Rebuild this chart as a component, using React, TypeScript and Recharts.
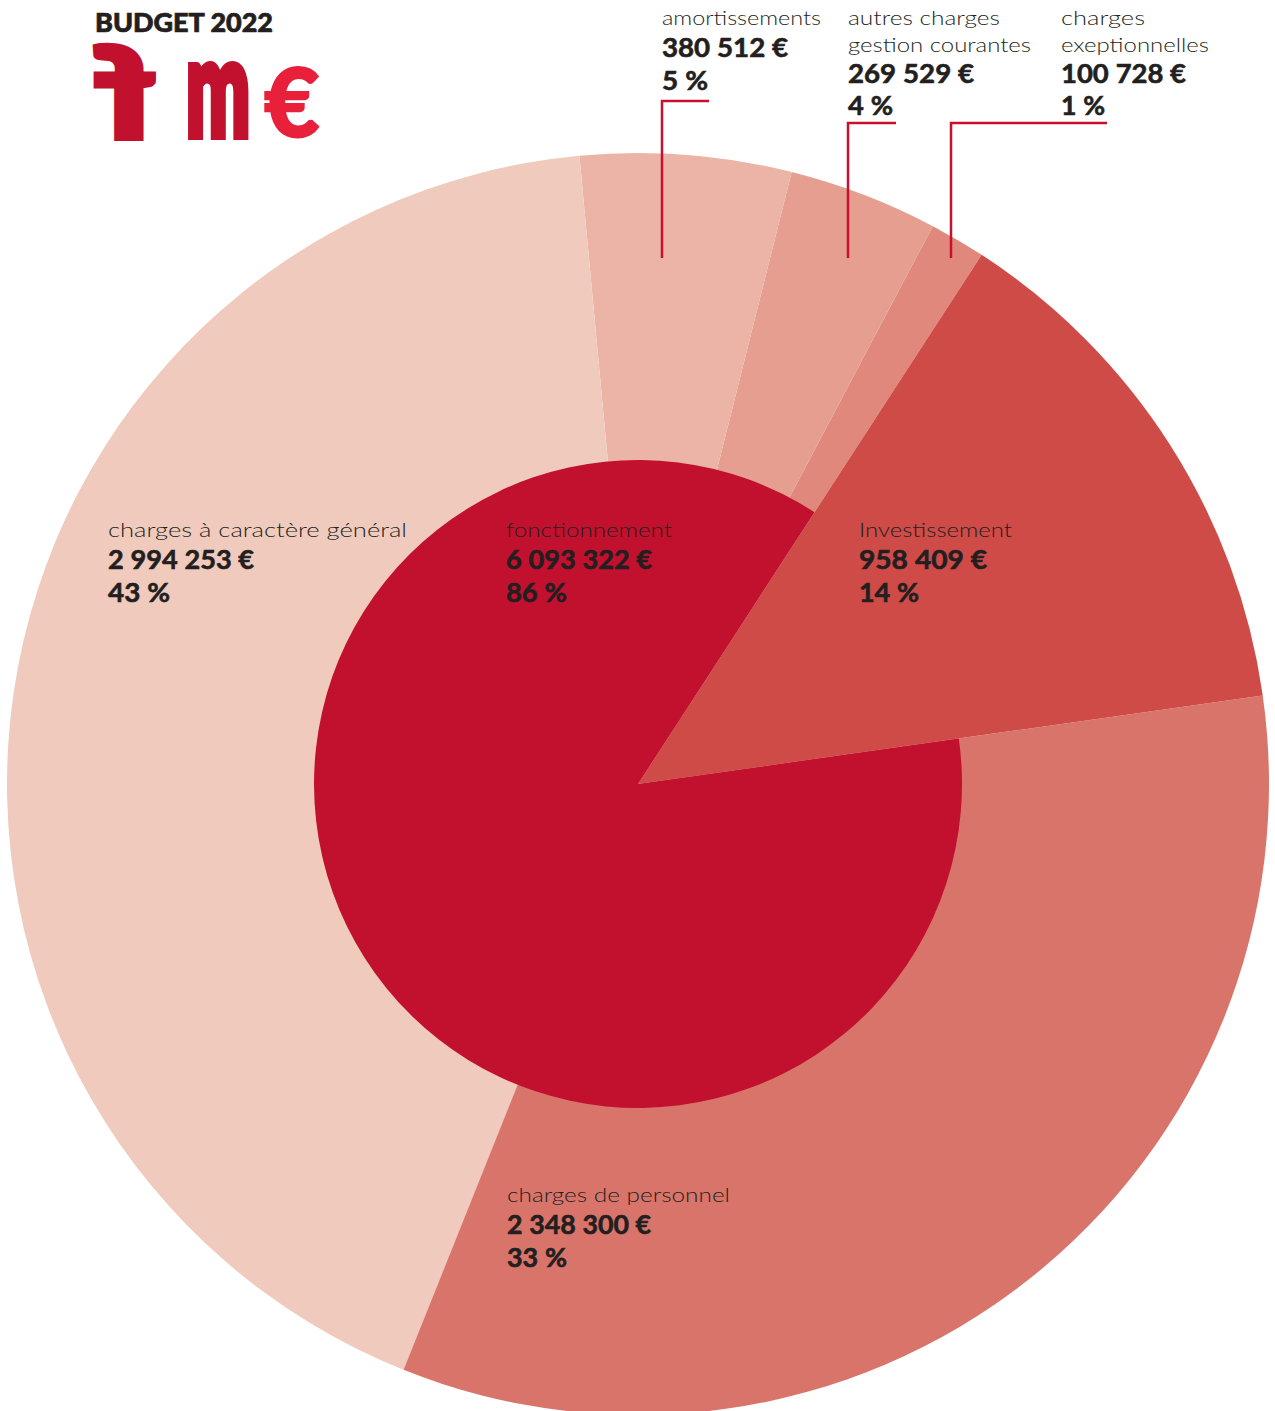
import { PieChart, Pie, Cell } from "recharts";

// --- data ---
const outerNames = [
  "charges exeptionnelles",
  "autres charges gestion courantes",
  "amortissements",
  "charges à caractère général",
  "charges de personnel",
  "Investissement",
];
const outerLabelLines = [
  ["charges", "exeptionnelles"],
  ["autres charges", "gestion courantes"],
  ["amortissements"],
  ["charges à caractère général"],
  ["charges de personnel"],
  ["Investissement"],
];
const outerValues = [100728, 269529, 380512, 2994253, 2348300, 958409];
const outerPct = [1, 4, 5, 43, 33, 14];

const innerNames = ["fonctionnement", "Investissement"];
const innerLabelLines = [["fonctionnement"], []];
const innerValues = [6093322, 958409];
const innerPct = [86, 14];

const title = "BUDGET 2022";

// --- styles / layout ---
const W = 1275;
const H = 1411;
const CX = 638;
const CY = 784;
const R_OUT = 631;
const R_IN = 324;
const START = 57;

const outerColors = ["#DF887B", "#E69E90", "#EBB4A7", "#F0CBBD", "#D9746A", "#CF4B48"];
const innerColors = ["#C1112E", "none"];
const RED = "#C8102E";
const INK = "#231F20";

type Box = {
  x: number;
  lines: number[]; // baselines of the name lines
  value: number;
  pct: number;
  w: number[]; // text widths: name lines..., value, pct
  leader?: [number, number][];
};

const outerLayout: Box[] = [
  { x: 1061, lines: [25, 52], value: 83, pct: 115, w: [84, 148, 125, 44], leader: [[951, 258], [951, 123], [1107, 123]] },
  { x: 848, lines: [25, 52], value: 83, pct: 115, w: [152, 183, 126, 45], leader: [[848, 258], [848, 123], [896, 123]] },
  { x: 662, lines: [25], value: 57, pct: 90, w: [159, 126, 46], leader: [[662, 258], [662, 101], [709, 101]] },
  { x: 108, lines: [537], value: 569, pct: 602, w: [299, 146, 62] },
  { x: 507, lines: [1202], value: 1234, pct: 1267, w: [223, 144, 60] },
  { x: 859, lines: [537], value: 569, pct: 602, w: [153, 128, 60] },
];
const innerLayout: (Box | null)[] = [
  { x: 506, lines: [537], value: 569, pct: 602, w: [166, 146, 61] },
  null,
];

const fmtEuro = (v: number) =>
  v.toLocaleString("fr-FR").replace(/\s/g, "\u202f") + "\u00a0€";
const fmtPct = (p: number) => `${p}\u202f%`;

const nameStyle = { fontFamily: "Lato, sans-serif", fontWeight: 300, fontSize: 20, fill: INK };
const boldStyle = {
  fontFamily: "Lato, sans-serif",
  fontWeight: 700,
  fontSize: 26,
  fill: INK,
  stroke: INK,
  strokeWidth: 0.6,
};

function makeLabel(lines: string[][], values: number[], pcts: number[], layout: (Box | null)[]) {
  return (props: any) => {
    const i = props.index;
    const b = layout[i];
    if (!b) return null;
    const n = lines[i].length;
    return (
      <g>
        {b.leader && (
          <polyline
            points={b.leader.map((p) => p.join(",")).join(" ")}
            fill="none"
            stroke={RED}
            strokeWidth={2.5}
          />
        )}
        {lines[i].map((t, k) => (
          <text key={k} x={b.x} y={b.lines[k]} style={nameStyle} textLength={b.w[k]} lengthAdjust="spacingAndGlyphs">
            {t}
          </text>
        ))}
        <text x={b.x} y={b.value} style={boldStyle} textLength={b.w[n]} lengthAdjust="spacingAndGlyphs">
          {fmtEuro(values[i])}
        </text>
        <text x={b.x} y={b.pct} style={boldStyle} textLength={b.w[n + 1]} lengthAdjust="spacingAndGlyphs">
          {fmtPct(pcts[i])}
        </text>
      </g>
    );
  };
}

const outerData = outerNames.map((name, i) => ({ name, value: outerValues[i] }));
const innerData = innerNames.map((name, i) => ({ name, value: innerValues[i] }));

function Logo() {
  return (
    <svg width={400} height={200} style={{ position: "absolute", left: 0, top: 0, pointerEvents: "none" }}>
      <text
        x={95}
        y={32}
        textLength={178}
        lengthAdjust="spacingAndGlyphs"
        style={{ fontFamily: "Lato, sans-serif", fontWeight: 900, fontSize: 26, fill: INK, stroke: INK, strokeWidth: 0.7 }}
      >
        {title}
      </text>
      <g style={{ fontFamily: "Lato, sans-serif", fontWeight: 900 }}>
        <text
          transform="translate(156,139) scale(-1.3,0.98)"
          style={{ fontSize: 128, fill: "#C1112E", stroke: "#C1112E", strokeWidth: 5, strokeLinejoin: "miter" }}
        >
          f
        </text>
        <text
          transform="translate(186,136) scale(0.76,1.36)"
          style={{ fontSize: 100, fill: "#C1112E", stroke: "#C1112E", strokeWidth: 6 }}
        >
          m
        </text>
        <text
          x={264}
          y={137}
          style={{ fontSize: 96, fill: "#E8203A", stroke: "#E8203A", strokeWidth: 2 }}
        >
          €
        </text>
      </g>
    </svg>
  );
}

export default function App() {
  return (
    <div style={{ position: "absolute", left: 0, top: 0, width: W, height: H, background: "#fff", overflow: "hidden" }}>
      <PieChart width={W} height={H} margin={{ top: 0, right: 0, bottom: 0, left: 0 }}>
        <Pie
          data={outerData}
          dataKey="value"
          nameKey="name"
          cx={CX}
          cy={CY}
          innerRadius={0}
          outerRadius={R_OUT}
          startAngle={START}
          endAngle={START + 360}
          stroke="none"
          labelLine={false}
          label={makeLabel(outerLabelLines, outerValues, outerPct, outerLayout)}
          isAnimationActive={false}
        >
          {outerData.map((d, i) => (
            <Cell key={d.name} fill={outerColors[i]} />
          ))}
        </Pie>
        <Pie
          data={innerData}
          dataKey="value"
          nameKey="name"
          cx={CX}
          cy={CY}
          innerRadius={0}
          outerRadius={R_IN}
          startAngle={START}
          endAngle={START + 360}
          stroke="none"
          labelLine={false}
          label={makeLabel(innerLabelLines, innerValues, innerPct, innerLayout)}
          isAnimationActive={false}
        >
          {innerData.map((d, i) => (
            <Cell key={d.name} fill={innerColors[i]} />
          ))}
        </Pie>
      </PieChart>
      <Logo />
    </div>
  );
}
